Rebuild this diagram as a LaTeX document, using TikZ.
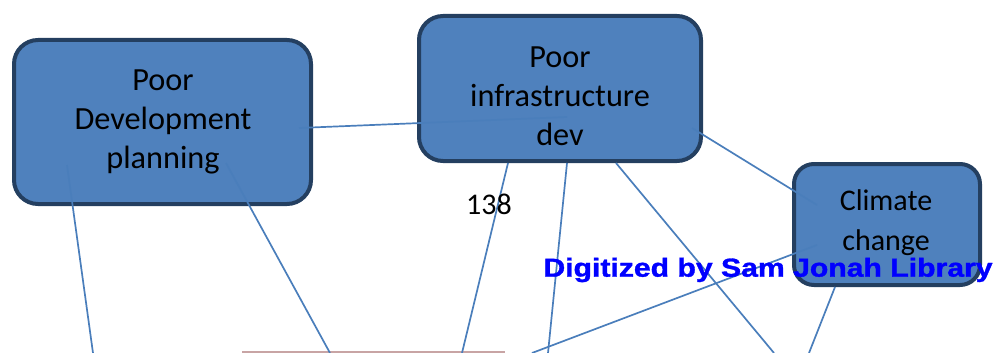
\documentclass[tikz,border=0pt]{standalone}
\usepackage{graphicx}
\usepackage{fontspec}
\setmainfont{Carlito}
\newfontfamily\wmfont[BoldFeatures={FakeBold=1.2}]{Liberation Sans}
\definecolor{boxfill}{HTML}{4F81BD}
\definecolor{boxedge}{HTML}{243F60}
\definecolor{linkc}{HTML}{4A7EBB}
\definecolor{pinkedge}{HTML}{C8A4A4}
\definecolor{wmblue}{HTML}{0000FF}
\tikzset{
  causebox/.style={draw=boxedge, fill=boxfill, line width=4pt, rounded corners=24pt, inner sep=0pt},
  link/.style={draw=linkc, line width=1.7pt},
  lbl/.style={align=center, text=black, inner sep=0pt},
}
\begin{document}
\begin{tikzpicture}[x=1pt,y=-1pt]
\useasboundingbox (0,0) rectangle (997,353);
% boxes
\node[causebox, minimum width=297pt, minimum height=164pt] (b1) at (162.5,122) {};
\node[causebox, minimum width=282pt, minimum height=145pt] (b2) at (560,88.5) {};
\node[causebox, rounded corners=20pt, minimum width=186pt, minimum height=121pt] (b3) at (887,224.5) {};
% bottom partial box edge
\coordinate (pkL) at (242,352);
\coordinate (pkR) at (505,352);
\draw[draw=pinkedge, line width=2pt] (pkL) -- (pkR);
% connector end points
\coordinate (a1) at (67,165);   \coordinate (e1) at (93,353);
\coordinate (a2) at (226,163);  \coordinate (e2) at (330,353);
\coordinate (a3) at (299,128);  \coordinate (e3) at (567,117);
\coordinate (a4) at (508,163);  \coordinate (e4) at (462,353);
\coordinate (a5) at (567,163);  \coordinate (e5) at (548,353);
\coordinate (a6) at (616,163);  \coordinate (e6) at (774,353);
\coordinate (a7) at (692,128);  \coordinate (e7) at (817,205);
\coordinate (a8) at (817,245);  \coordinate (e8) at (532,353);
\coordinate (a9) at (835,287);  \coordinate (e9) at (809,353);
\foreach \i in {1,...,9} {\draw[link] (a\i) -- (e\i);}
% labels
\node[lbl, font=\fontsize{32.3}{39}\selectfont] (t1) at (163,122) {Poor\\Development\\planning};
\node[lbl, font=\fontsize{32.3}{39}\selectfont] (t2) at (560,96.5) {Poor\\infrastructure\\dev};
\node[lbl, font=\fontsize{30}{40}\selectfont] (t3) at (886,223) {Climate\\change};
\node[lbl, font=\fontsize{30}{34}\selectfont] (pg) at (489,204) {138};
\node[lbl, text=wmblue, font=\wmfont\bfseries\fontsize{26}{30}\selectfont] (wm) at (768,270) {\scalebox{1.16}[1]{Digitized by Sam Jonah Library}};
\end{tikzpicture}
\end{document}
